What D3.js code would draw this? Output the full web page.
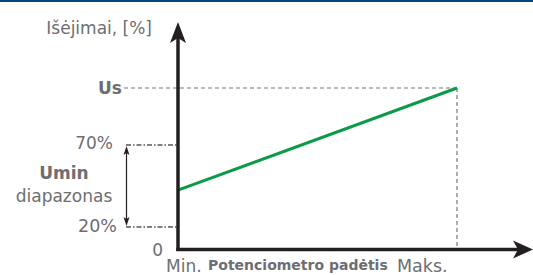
<!DOCTYPE html>
<html><head><meta charset="utf-8">
<script src="https://cdn.jsdelivr.net/npm/d3@7/dist/d3.min.js"></script>
<style>
body{margin:0;background:#fff;}
text{font-family:"DejaVu Sans",sans-serif;fill:#6d6e71;}
</style></head>
<body>
<svg id="c" width="533" height="275"></svg>
<script>
// Data
const yLevels = [0, 20, 70, 100];            // % levels (100 = Us)
const yLabels = ["0", "20%", "70%", "Us"];
const xCategories = ["Min.", "Maks."];
const xValues = [0, 1];
const outputValues = [42.5, 100];            // green line: from Umin to Us
const yAxisTitle = "Išėjimai, [%]";
const xAxisTitle = "Potenciometro padėtis";
const rangeLabelTop = "Umin";
const rangeLabelBottom = "diapazonas";

const svg = d3.select("#c");
const x = d3.scaleLinear().domain([0, 1]).range([178, 457]);
const y = d3.scaleLinear().domain(yLevels).range([249.5, 227, 145, 88]);

// top border
svg.append("rect").attr("x",0).attr("y",0).attr("width",533).attr("height",2).attr("fill","#00457c");

// Us dashed guide
svg.append("line").attr("x1",124).attr("x2",x(1)).attr("y1",y(100)).attr("y2",y(100))
  .attr("stroke","#777").attr("stroke-width",1.2).attr("stroke-dasharray","4,3");
// Maks vertical dashed
svg.append("line").attr("x1",x(1)).attr("x2",x(1)).attr("y1",y(100)).attr("y2",y(0))
  .attr("stroke","#777").attr("stroke-width",1.2).attr("stroke-dasharray","4,3");
// 70% and 20% dash-dot guides
[70,20].forEach(v=>{
  svg.append("line").attr("x1",126).attr("x2",x(0)).attr("y1",y(v)).attr("y2",y(v))
    .attr("stroke","#555").attr("stroke-width",1.3).attr("stroke-dasharray","5,2,1.5,2");
});
// Umin range double arrow
const ax0 = 126.5, yt = y(70)+1, yb = y(20)-1;
svg.append("line").attr("x1",ax0).attr("x2",ax0).attr("y1",yt+4).attr("y2",yb-4)
  .attr("stroke","#231f20").attr("stroke-width",1.2);
svg.append("path").attr("d",`M${ax0},${yt} L${ax0+3},${yt+9} L${ax0},${yt+7} L${ax0-3},${yt+9} Z`).attr("fill","#231f20");
svg.append("path").attr("d",`M${ax0},${yb} L${ax0+3},${yb-9} L${ax0},${yb-7} L${ax0-3},${yb-9} Z`).attr("fill","#231f20");

// green output line
const line = d3.line().x((d,i)=>x(xValues[i])).y(d=>y(d));
svg.append("path").datum(outputValues).attr("d",line)
  .attr("fill","none").attr("stroke","#0b9a48").attr("stroke-width",3);

// axes
const ax = "#231f20";
svg.append("line").attr("x1",x(0)).attr("x2",x(0)).attr("y1",y(0)+1.5).attr("y2",36)
  .attr("stroke",ax).attr("stroke-width",3.5);
svg.append("path").attr("d",`M${x(0)},22 L${x(0)+8},43 L${x(0)},38 L${x(0)-8},43 Z`).attr("fill",ax);
svg.append("line").attr("x1",x(0)-1.7).attr("x2",520).attr("y1",y(0)).attr("y2",y(0))
  .attr("stroke",ax).attr("stroke-width",3.5);
svg.append("path").attr("d",`M533,${y(0)} L513,${y(0)-9} L518,${y(0)} L513,${y(0)+9} Z`).attr("fill",ax);

// texts
function t(xp, yp, s, size, anchor, bold){
  const e = svg.append("text").attr("x",xp).attr("y",yp).attr("text-anchor",anchor)
    .style("font-size",size+"px").text(s);
  if (bold) e.style("font-weight","bold");
  return e;
}
t(152, 33.5, yAxisTitle, 17, "end");
t(122, 94, yLabels[3], 17, "end", true);
t(113, 149, yLabels[2], 17, "end");
t(117, 232, yLabels[1], 17.5, "end");
t(163, 256, yLabels[0], 17, "end");
t(64, 179, rangeLabelTop, 17, "middle", true);
t(64, 202, rangeLabelBottom, 17, "middle");
t(166, 271.5, xCategories[0], 17, "start");
t(208, 270, xAxisTitle, 14, "start", true);
t(397, 271.5, xCategories[1], 17.5, "start");
</script>
</body></html>
